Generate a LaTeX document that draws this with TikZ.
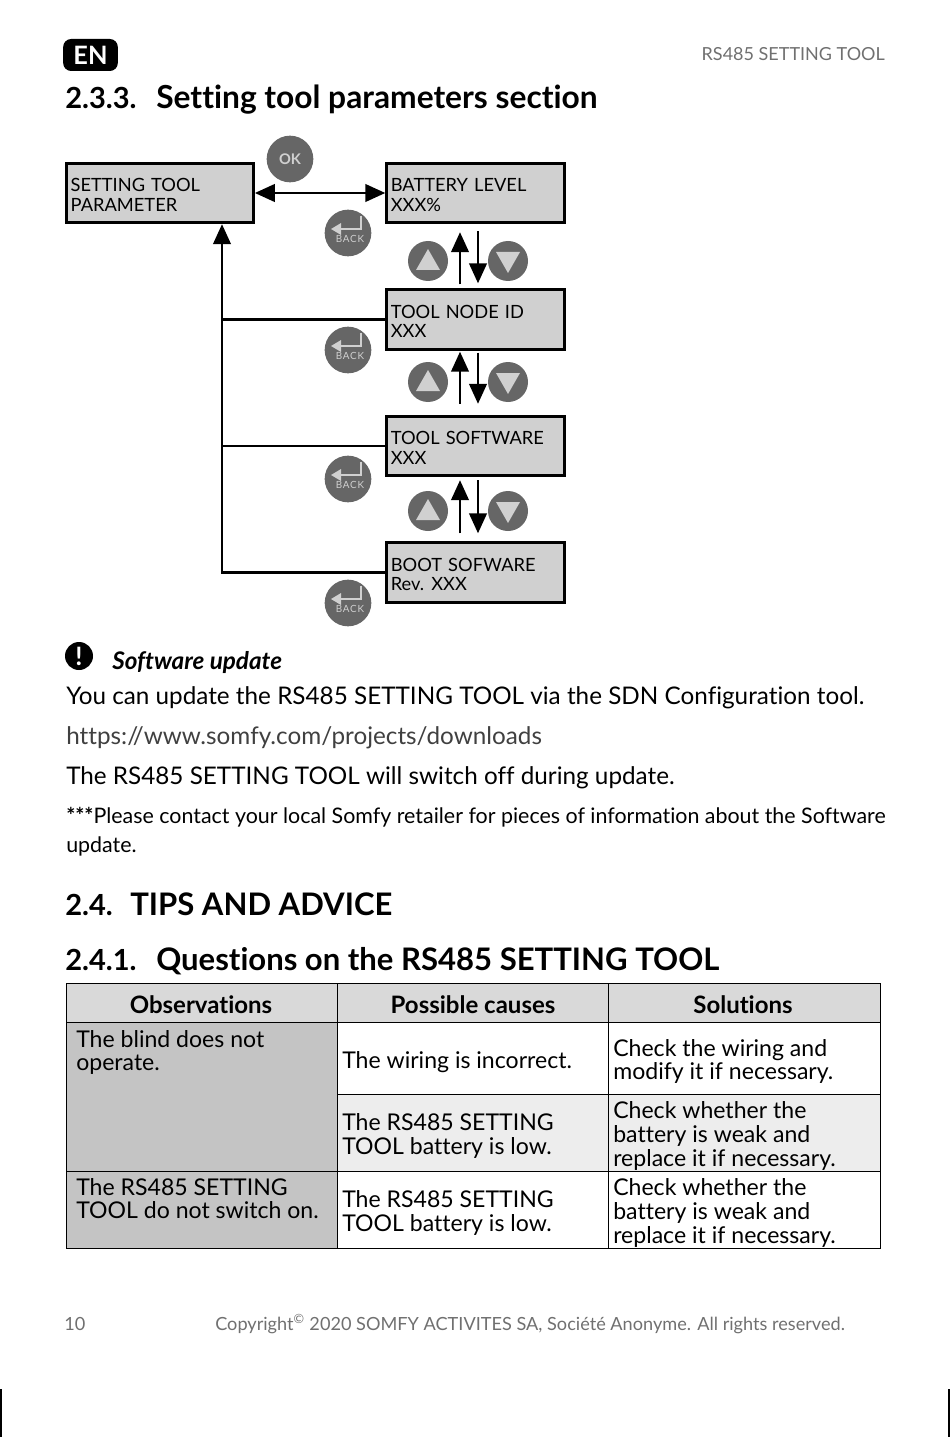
\documentclass[tikz,border=0pt]{standalone}
\usepackage{fontspec}
\setmainfont{Lato}[Ligatures=CommonOff]
\usetikzlibrary{positioning,arrows.meta}
\definecolor{boxgrey}{RGB}{208,208,208}
\definecolor{btngrey}{RGB}{102,102,102}
\definecolor{footgrey}{RGB}{112,112,112}
\definecolor{headgrey}{RGB}{217,217,217}
\definecolor{obsgrey}{RGB}{196,196,196}
\definecolor{rowgrey}{RGB}{237,237,237}
\newcommand{\backicon}[1]{%
  \draw[boxgrey,line width=2.2pt] ([shift={(13,-17)}]#1.center) -- ([shift={(13,-4)}]#1.center) -- ([shift={(-9,-4)}]#1.center);
  \fill[boxgrey] ([shift={(-17,-4)}]#1.center) -- ([shift={(-7,-10)}]#1.center) -- ([shift={(-7,2)}]#1.center) -- cycle;
  \node[backlbl] (#1lbl) at ([shift={(2,6)}]#1.center) {BACK};}
\newcommand{\uptri}[1]{\fill[boxgrey] ([shift={(0,-12)}]#1.center) -- ([shift={(-12,9)}]#1.center) -- ([shift={(12,9)}]#1.center) -- cycle;}
\newcommand{\downtri}[1]{\fill[boxgrey] ([shift={(0,12)}]#1.center) -- ([shift={(-12,-9)}]#1.center) -- ([shift={(12,-9)}]#1.center) -- cycle;}
\begin{document}
\begin{tikzpicture}[x=0.75pt,y=-0.75pt,
  box/.style={draw=black,line width=2.2pt,fill=boxgrey,text width=127pt,inner sep=3pt,
     minimum height=44.5pt,align=left,font=\fontsize{13.7}{14.6}\selectfont,
     execute at begin node={\rule{0pt}{12.8pt}}},
  btn/.style={circle,fill=btngrey,minimum size=35pt,inner sep=0pt},
  arrbtn/.style={circle,fill=btngrey,minimum size=30pt,inner sep=0pt},
  backlbl/.style={text=boxgrey,inner sep=0pt,font=\fontsize{7.4}{8}\selectfont\addfontfeatures{LetterSpace=8}},
  arr/.style={draw=black,line width=2.2pt,-{Triangle[length=15pt,width=13pt]}},
  twoarr/.style={draw=black,line width=2.2pt,{Triangle[length=15pt,width=13pt]}-{Triangle[length=15pt,width=13pt]}},
  line/.style={draw=black,line width=2.2pt},
  txt/.style={anchor=base west,inner sep=0pt,align=left},
  h1/.style={txt,font=\fontsize{23.3}{26}\bfseries\selectfont},
  h1num/.style={txt,font=\fontsize{21.8}{26}\bfseries\selectfont},
  body/.style={txt,font=\fontsize{18.2}{20}\selectfont},
  small/.style={txt,font=\fontsize{16.05}{21.7}\selectfont},
  foot/.style={txt,text=footgrey,font=\fontsize{13.6}{16}\selectfont},
  cell/.style={txt,font=\fontsize{17.3}{18}\selectfont},
  headcell/.style={anchor=base,inner sep=0pt,font=\fontsize{18}{18}\bfseries\selectfont}]
\useasboundingbox (0,0) rectangle (950,1444);
% page head
\node[fill=black,rounded corners=6pt,minimum width=41pt,minimum height=24pt,inner sep=0pt,text=white,
  font=\fontsize{19}{22}\bfseries\selectfont] (lang) at (90.5,55) {EN};
\node[foot,anchor=base east,font=\fontsize{13.5}{16}\selectfont] (doctitle) at (885,61) {RS485 SETTING TOOL};
\node[h1num] (secnum) at (65,109) {2.3.3.};
\node[h1,font=\fontsize{23.8}{26}\bfseries\selectfont] (sectitle) at (156,109) {Setting tool parameters section};
% menu boxes
\node[box,text width=134pt] (param) at (160,193) {SETTING TOOL\\PARAMETER};
\node[box] (battery) at (475.5,193) {BATTERY LEVEL\\XXX\%};
\node[box] (nodeid) at (475.5,319.5) {TOOL NODE ID\\XXX};
\node[box] (software) at (475.5,446) {TOOL SOFTWARE\\XXX};
\node[box] (boot) at (475.5,572.5) {BOOT SOFWARE\\Rev.\hspace{-1.5pt} XXX};
% buttons
\node[btn,text=boxgrey,font=\fontsize{11}{12}\bfseries\selectfont] (okbtn) at (290,159) {OK};
\node[btn] (backa) at (348,233) {};
\node[btn] (backb) at (348,350) {};
\node[btn] (backc) at (348,479) {};
\node[btn] (backd) at (348,603) {};
\backicon{backa}\backicon{backb}\backicon{backc}\backicon{backd}
\node[arrbtn] (upa) at (428,261) {};
\node[arrbtn] (downa) at (508,261) {};
\node[arrbtn] (upb) at (428,382) {};
\node[arrbtn] (downb) at (508,382) {};
\node[arrbtn] (upc) at (428,511) {};
\node[arrbtn] (downc) at (508,511) {};
\uptri{upa}\downtri{downa}\uptri{upb}\downtri{downb}\uptri{upc}\downtri{downc}
% connectors
\draw[twoarr] (param.east)--(battery.west);
\coordinate (trunk) at ([xshift=46.5pt]param.south);
\draw[arr] (boot.west)-|(trunk);
\draw[line] (nodeid.west)--(nodeid.west-|trunk);
\draw[line] (software.west)--(software.west-|trunk);
\draw[arr] ([shift={(-15.5,-4)}]nodeid.north)--([shift={(-15.5,8)}]battery.south);
\draw[arr] ([shift={(2.5,7)}]battery.south)--([shift={(2.5,-5)}]nodeid.north);
\draw[arr] ([shift={(-15.5,-11)}]software.north)--([shift={(-15.5,1)}]nodeid.south);
\draw[arr] ([shift={(2.5,2)}]nodeid.south)--([shift={(2.5,-11)}]software.north);
\draw[arr] ([shift={(-15.5,-8)}]boot.north)--([shift={(-15.5,3)}]software.south);
\draw[arr] ([shift={(2.5,3)}]software.south)--([shift={(2.5,-8)}]boot.north);
% note
\node[circle,fill=black,minimum size=21pt,inner sep=0pt,text=white,font=\fontsize{19}{19}\bfseries\selectfont] (warn) at (79,656) {!};
\node[txt,font=\fontsize{18.2}{20}\bfseries\itshape\selectfont] (notehead) at (112,669) {Software update};
\node[body] (notea) at (66,704) {You can update the RS485 SETTING TOOL via the SDN Configuration tool.};
\node[body,text=black!75] (noteb) at (66,744) {https://www.somfy.com/projects/downloads};
\node[body] (notec) at (66,784) {The RS485 SETTING TOOL will switch off during update.};
\node[small] (noted) at (66,823) {\textbf{***}Please contact your local Somfy retailer for pieces of information about the Software};
\node[small] (notee) at (66,852) {update.};
% tips
\node[h1num] (tipsnum) at (65,915) {2.4.};
\node[h1] (tipstitle) at (130,915) {TIPS AND ADVICE};
\node[h1num] (qnum) at (65,970) {2.4.1.};
\node[h1] (qtitle) at (156,970) {Questions on the RS485 SETTING TOOL};
% table
\fill[headgrey] (66,983) rectangle (880,1022);
\fill[obsgrey] (66,1022) rectangle (337,1248);
\fill[rowgrey] (337,1094) rectangle (880,1171);
\draw[black,line width=0.7pt] (66,983) rectangle (880,1248);
\draw[black,line width=0.7pt] (337,983)--(337,1248) (608,983)--(608,1248)
  (66,1022)--(880,1022) (337,1094)--(880,1094) (66,1171)--(880,1171);
\node[headcell] (obs) at (201,1013) {Observations};
\node[headcell] (causes) at (473,1013) {Possible causes};
\node[headcell] (sols) at (743,1013) {Solutions};
\node[cell] (obsa) at (76,1047) {The blind does not};
\node[cell] (obsaa) at (76,1070) {operate.};
\node[cell] (obsb) at (76,1195) {The RS485 SETTING};
\node[cell] (obsbb) at (76,1218) {TOOL do not switch on.};
\node[cell] (causea) at (342,1068) {The wiring is incorrect.};
\node[cell] (causeb) at (342,1130) {The RS485 SETTING};
\node[cell] (causebb) at (342,1154) {TOOL battery is low.};
\node[cell] (causec) at (342,1207) {The RS485 SETTING};
\node[cell] (causecc) at (342,1231) {TOOL battery is low.};
\node[cell] (sola) at (613,1056) {Check the wiring and};
\node[cell] (solaa) at (613,1079) {modify it if necessary.};
\node[cell] (solb) at (613,1118) {Check whether the};
\node[cell] (solbb) at (613,1142) {battery is weak and};
\node[cell] (solbbb) at (613,1166) {replace it if necessary.};
\node[cell] (solc) at (613,1195) {Check whether the};
\node[cell] (solcc) at (613,1219) {battery is weak and};
\node[cell] (solccc) at (613,1243) {replace it if necessary.};
% page foot
\node[foot] (pageno) at (64,1330) {10};
\node[foot] (copyr) at (215,1330) {Copyright\textsuperscript{©} 2020 SOMFY ACTIVITES SA, Société Anonyme. All rights reserved.};
\coordinate (cropla) at (1,1389);
\coordinate (croplb) at (1,1437);
\coordinate (cropra) at (949,1389);
\coordinate (croprb) at (949,1437);
\draw[black,line width=0.8pt] (cropla)--(croplb) (cropra)--(croprb);
\end{tikzpicture}
\end{document}
